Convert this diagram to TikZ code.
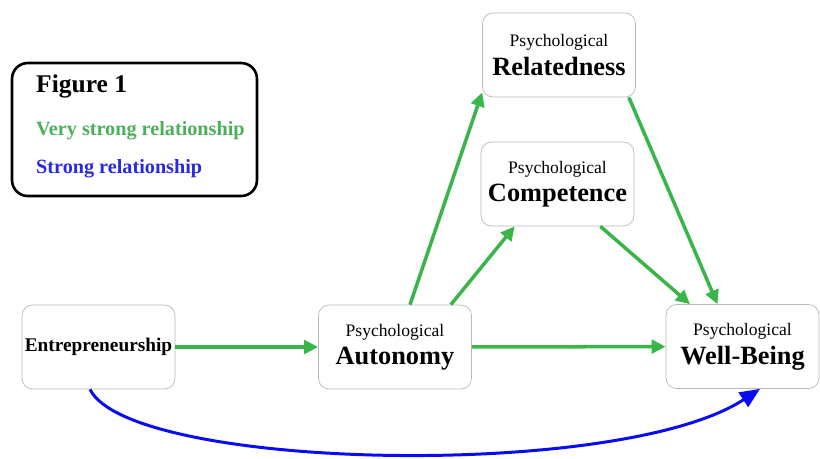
\documentclass[tikz,border=0pt]{standalone}
\usepackage{fontspec}
\setmainfont{Liberation Serif}
\usetikzlibrary{arrows.meta}
\definecolor{vstrong}{RGB}{57, 181, 74}
\definecolor{vstrongtext}{RGB}{76, 175, 90}
\definecolor{strong}{RGB}{10, 10, 245}
\definecolor{strongtext}{RGB}{40, 40, 230}
\definecolor{boxline}{RGB}{185, 185, 185}

\begin{document}
\begin{tikzpicture}[x=0.02cm, y=-0.02cm,
    varbox/.style={draw=boxline, rounded corners=6pt, fill=white, align=center,
      minimum width=3.06cm, minimum height=1.68cm, inner sep=0pt},
    legendbox/.style={draw=black, line width=1.5pt, rounded corners=9pt,
      minimum width=4.9cm, minimum height=2.66cm},
    vsarrow/.style={vstrong, line width=2pt, -{Triangle[length=0.28cm, width=0.27cm]}},
    sarrow/.style={strong, line width=1.7pt, -{Triangle[length=0.4cm, width=0.34cm]}}]
      \useasboundingbox (0,0) rectangle (820,458);

      % Legend
      \node[legendbox] (legend) at (134.5,129.5) {};
      \node[anchor=base west, font=\fontsize{14.5}{16}\selectfont\bfseries] (fig) at (30,92) {Figure 1};
      \node[anchor=base west, vstrongtext, font=\fontsize{11.5}{13}\selectfont\bfseries] (vslabel) at (30,135) {Very strong relationship};
      \node[anchor=base west, strongtext, font=\fontsize{11.5}{13}\selectfont\bfseries] (slabel) at (30,173) {Strong relationship};

      % Boxes
      \node[varbox] (rel) at (559,55) {{\fontsize{10}{12}\selectfont Psychological}\\[3pt]{\fontsize{15}{17}\selectfont\bfseries Relatedness}};
      \node[varbox] (comp) at (557.5,184) {{\fontsize{10}{12}\selectfont Psychological}\\[3pt]{\fontsize{15}{17}\selectfont\bfseries Competence}};
      \node[varbox] (ent) at (98.5,347) {\fontsize{11}{13}\selectfont\bfseries Entrepreneurship};
      \node[varbox] (aut) at (395,347) {{\fontsize{10}{12}\selectfont Psychological}\\[3pt]{\fontsize{15}{17}\selectfont\bfseries Autonomy}};
      \node[varbox] (wb) at (742.5,346.5) {{\fontsize{10}{12}\selectfont Psychological}\\[3pt]{\fontsize{15}{17}\selectfont\bfseries Well-Being}};

      % Very strong paths
      \draw[vsarrow] (ent) -- (aut);
      \draw[vsarrow] (aut) -- (wb);
      \draw[vsarrow] ([xshift=0.3cm]aut.north) -- ([yshift=0.1cm]rel.south west);
      \draw[vsarrow] ([xshift=-0.42cm]aut.north east) -- ([xshift=0.68cm]comp.south west);
      \draw[vsarrow] ([xshift=-0.14cm]rel.south east) -- ([xshift=-0.5cm]wb.north);
      \draw[vsarrow] ([xshift=-0.68cm]comp.south east) -- ([xshift=-1.05cm]wb.north);

      % Strong path
      \draw[sarrow] ([xshift=-0.17cm]ent.south) .. controls +(40,81) and +(-140,92) .. ([xshift=0.35cm]wb.south);
    \end{tikzpicture}
\end{document}
